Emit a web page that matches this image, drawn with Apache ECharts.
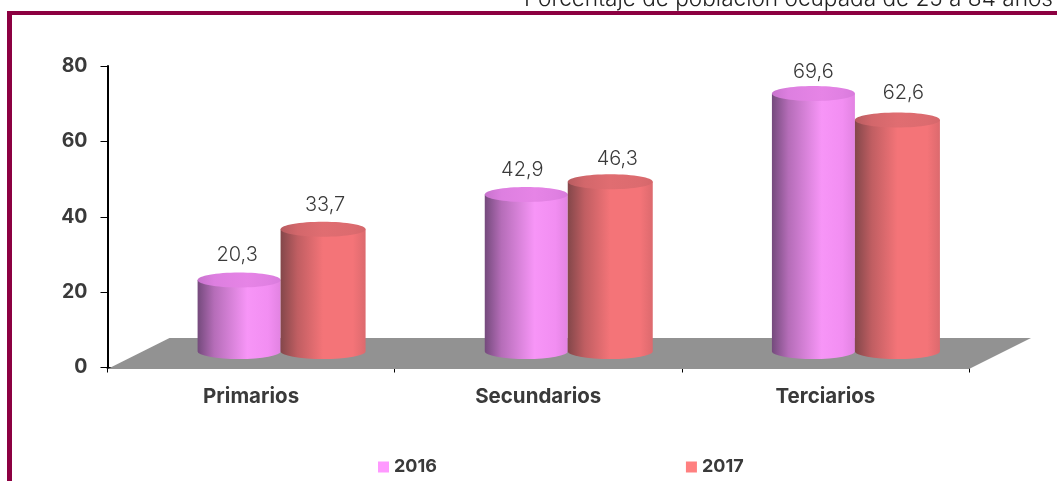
<!DOCTYPE html>
<html><head><meta charset="utf-8">
<style>html,body{margin:0;padding:0;background:#fff}#c{width:1057px;height:481px}</style>
<script src="https://cdn.jsdelivr.net/npm/echarts@6/dist/echarts.min.js"></script>
</head><body><div id="c"></div>
<script>
const categories = ['Primarios', 'Secundarios', 'Terciarios'];
const values2016 = [20.3, 42.9, 69.6];
const values2017 = [33.7, 46.3, 62.6];
const yTicks = [0, 20, 40, 60, 80];
const subtitle = 'Porcentaje de población ocupada de 25 a 84 años';

const FONT = 'Inter, Lato, sans-serif';
const TEXT = '#3a3a3a';
const BORDER = '#8c0041';
const fmt = v => String(v).replace('.', ',');

function cylinder(side, c) {
  return function (params, api) {
    const i = api.value(0), v = api.value(1);
    const top = api.coord([i, v]);
    const base = api.coord([i, 0]);
    const w = api.size([1, 0])[0] * c.widthShare;
    const rx = w / 2, ry = 7.5;
    const cx = top[0] + side * rx;
    const x0 = cx - rx, x1 = cx + rx;
    const yT = top[1], yB = base[1] - 5.5;
    const lg = s => ({ type: 'linear', x: 0, y: 0, x2: 1, y2: 0, colorStops: s.map((col, k) => ({ offset: c.stops[k], color: col })) });
    return {
      type: 'group',
      children: [
        { type: 'path',
          shape: { pathData: `M${x0} ${yT}L${x0} ${yB}A${rx} ${ry} 0 0 0 ${x1} ${yB}L${x1} ${yT}Z`, x: x0, y: yT, width: w, height: yB + ry - yT, layout: 'cover' },
          style: { fill: lg(c.body) } },
        { type: 'ellipse', shape: { cx, cy: yT, rx, ry }, style: { fill: lg(c.top) } },
        { type: 'text', style: { text: fmt(v), x: cx + c.nudgeX[params.dataIndex], y: yT - ry - 18 + c.nudgeY[params.dataIndex], align: 'center', verticalAlign: 'middle', font: '300 20px ' + FONT, fill: TEXT } }
      ]
    };
  };
}

const purple = {
  widthShare: 0.289,
  stops: [0, 0.2, 0.6, 0.85, 1],
  body: ['#744a7c', '#b56db8', '#f795f7', '#f28ef2', '#e283e2'],
  top: ['#c873cd', '#dd7fe0', '#e684e6', '#e080e2', '#d87bdc'],
  nudgeX: [-2, -4, 0],
  nudgeY: [0, 1, 4]
};
const red = {
  widthShare: 0.296,
  stops: [0, 0.2, 0.5, 0.85, 1],
  body: ['#83474a', '#c05e62', '#f47478', '#f47478', '#dc6a6e'],
  top: ['#b85c60', '#d3676b', '#e06d71', '#dc6b6f', '#d5676b'],
  nudgeX: [2, 7, 6],
  nudgeY: [1, 3, -1]
};

const chart = echarts.init(document.getElementById('c'), null, { renderer: 'canvas' });
chart.setOption({
  animation: false,
  backgroundColor: '#fff',
  textStyle: { fontFamily: FONT },
  graphic: [
    { type: 'text', right: 4, top: -12, z: 0, style: { text: subtitle, font: '300 22.6px ' + FONT, fill: '#222' } },
    { type: 'rect', shape: { x: 7, y: 11, width: 1050, height: 4 }, style: { fill: BORDER }, z: 10 },
    { type: 'rect', shape: { x: 7, y: 11, width: 5, height: 470 }, style: { fill: BORDER }, z: 10 }
  ],
  legend: {
    left: 373, top: 453, itemWidth: 11, itemHeight: 11, itemGap: 249, icon: 'rect',
    textStyle: { fontFamily: FONT, fontWeight: 700, fontSize: 18, color: TEXT },
    data: ['2016', '2017']
  },
  grid: [
    { left: 107.5, right: 88, top: 66, height: 301.5 },
    { left: 137, right: 58.5, top: 54, height: 303 }
  ],
  xAxis: [
    { type: 'category', gridIndex: 0, data: categories, offset: 1.5,
      axisLine: { lineStyle: { color: '#000', width: 2 } },
      axisTick: { show: true, alignWithLabel: false, length: 5, lineStyle: { color: '#000' } },
      axisLabel: { fontFamily: FONT, fontWeight: 700, fontSize: 20.5, color: TEXT, margin: 17 } },
    { type: 'category', gridIndex: 1, data: categories, show: false }
  ],
  yAxis: [
    { type: 'value', gridIndex: 0, min: yTicks[0], max: yTicks[yTicks.length - 1], interval: 20,
      splitLine: { show: false },
      axisLine: { show: true, lineStyle: { color: '#000', width: 2 } },
      axisTick: { show: true, length: 7, lineStyle: { color: '#000' } },
      axisLabel: { fontFamily: FONT, fontWeight: 700, fontSize: 19.5, color: TEXT, margin: 20, padding: [2, 0, 0, 0] } },
    { type: 'value', gridIndex: 1, min: 0, max: 80, show: false, splitLine: { show: false } }
  ],
  series: [
    { type: 'custom', name: 'floor', xAxisIndex: 0, yAxisIndex: 0, z: 1, silent: true,
      data: [[0, 0]],
      renderItem: function (params) {
        const g = params.coordSys;
        const b = g.y + g.height + 1.5, dx = 62, dy = 31;
        return { type: 'polygon',
          shape: { points: [[g.x, b], [g.x + dx, b - dy], [g.x + g.width + dx, b - dy], [g.x + g.width, b]] },
          style: { fill: '#929292' } };
      } },
    { type: 'custom', name: '2016', xAxisIndex: 1, yAxisIndex: 1, z: 3,
      itemStyle: { color: '#ff99ff' },
      encode: { x: 0, y: 1 },
      data: values2016.map((v, i) => [i, v]),
      renderItem: cylinder(-1, purple) },
    { type: 'custom', name: '2017', xAxisIndex: 1, yAxisIndex: 1, z: 4,
      itemStyle: { color: '#ff8080' },
      encode: { x: 0, y: 1 },
      data: values2017.map((v, i) => [i, v]),
      renderItem: cylinder(1, red) }
  ]
});
</script></body></html>
